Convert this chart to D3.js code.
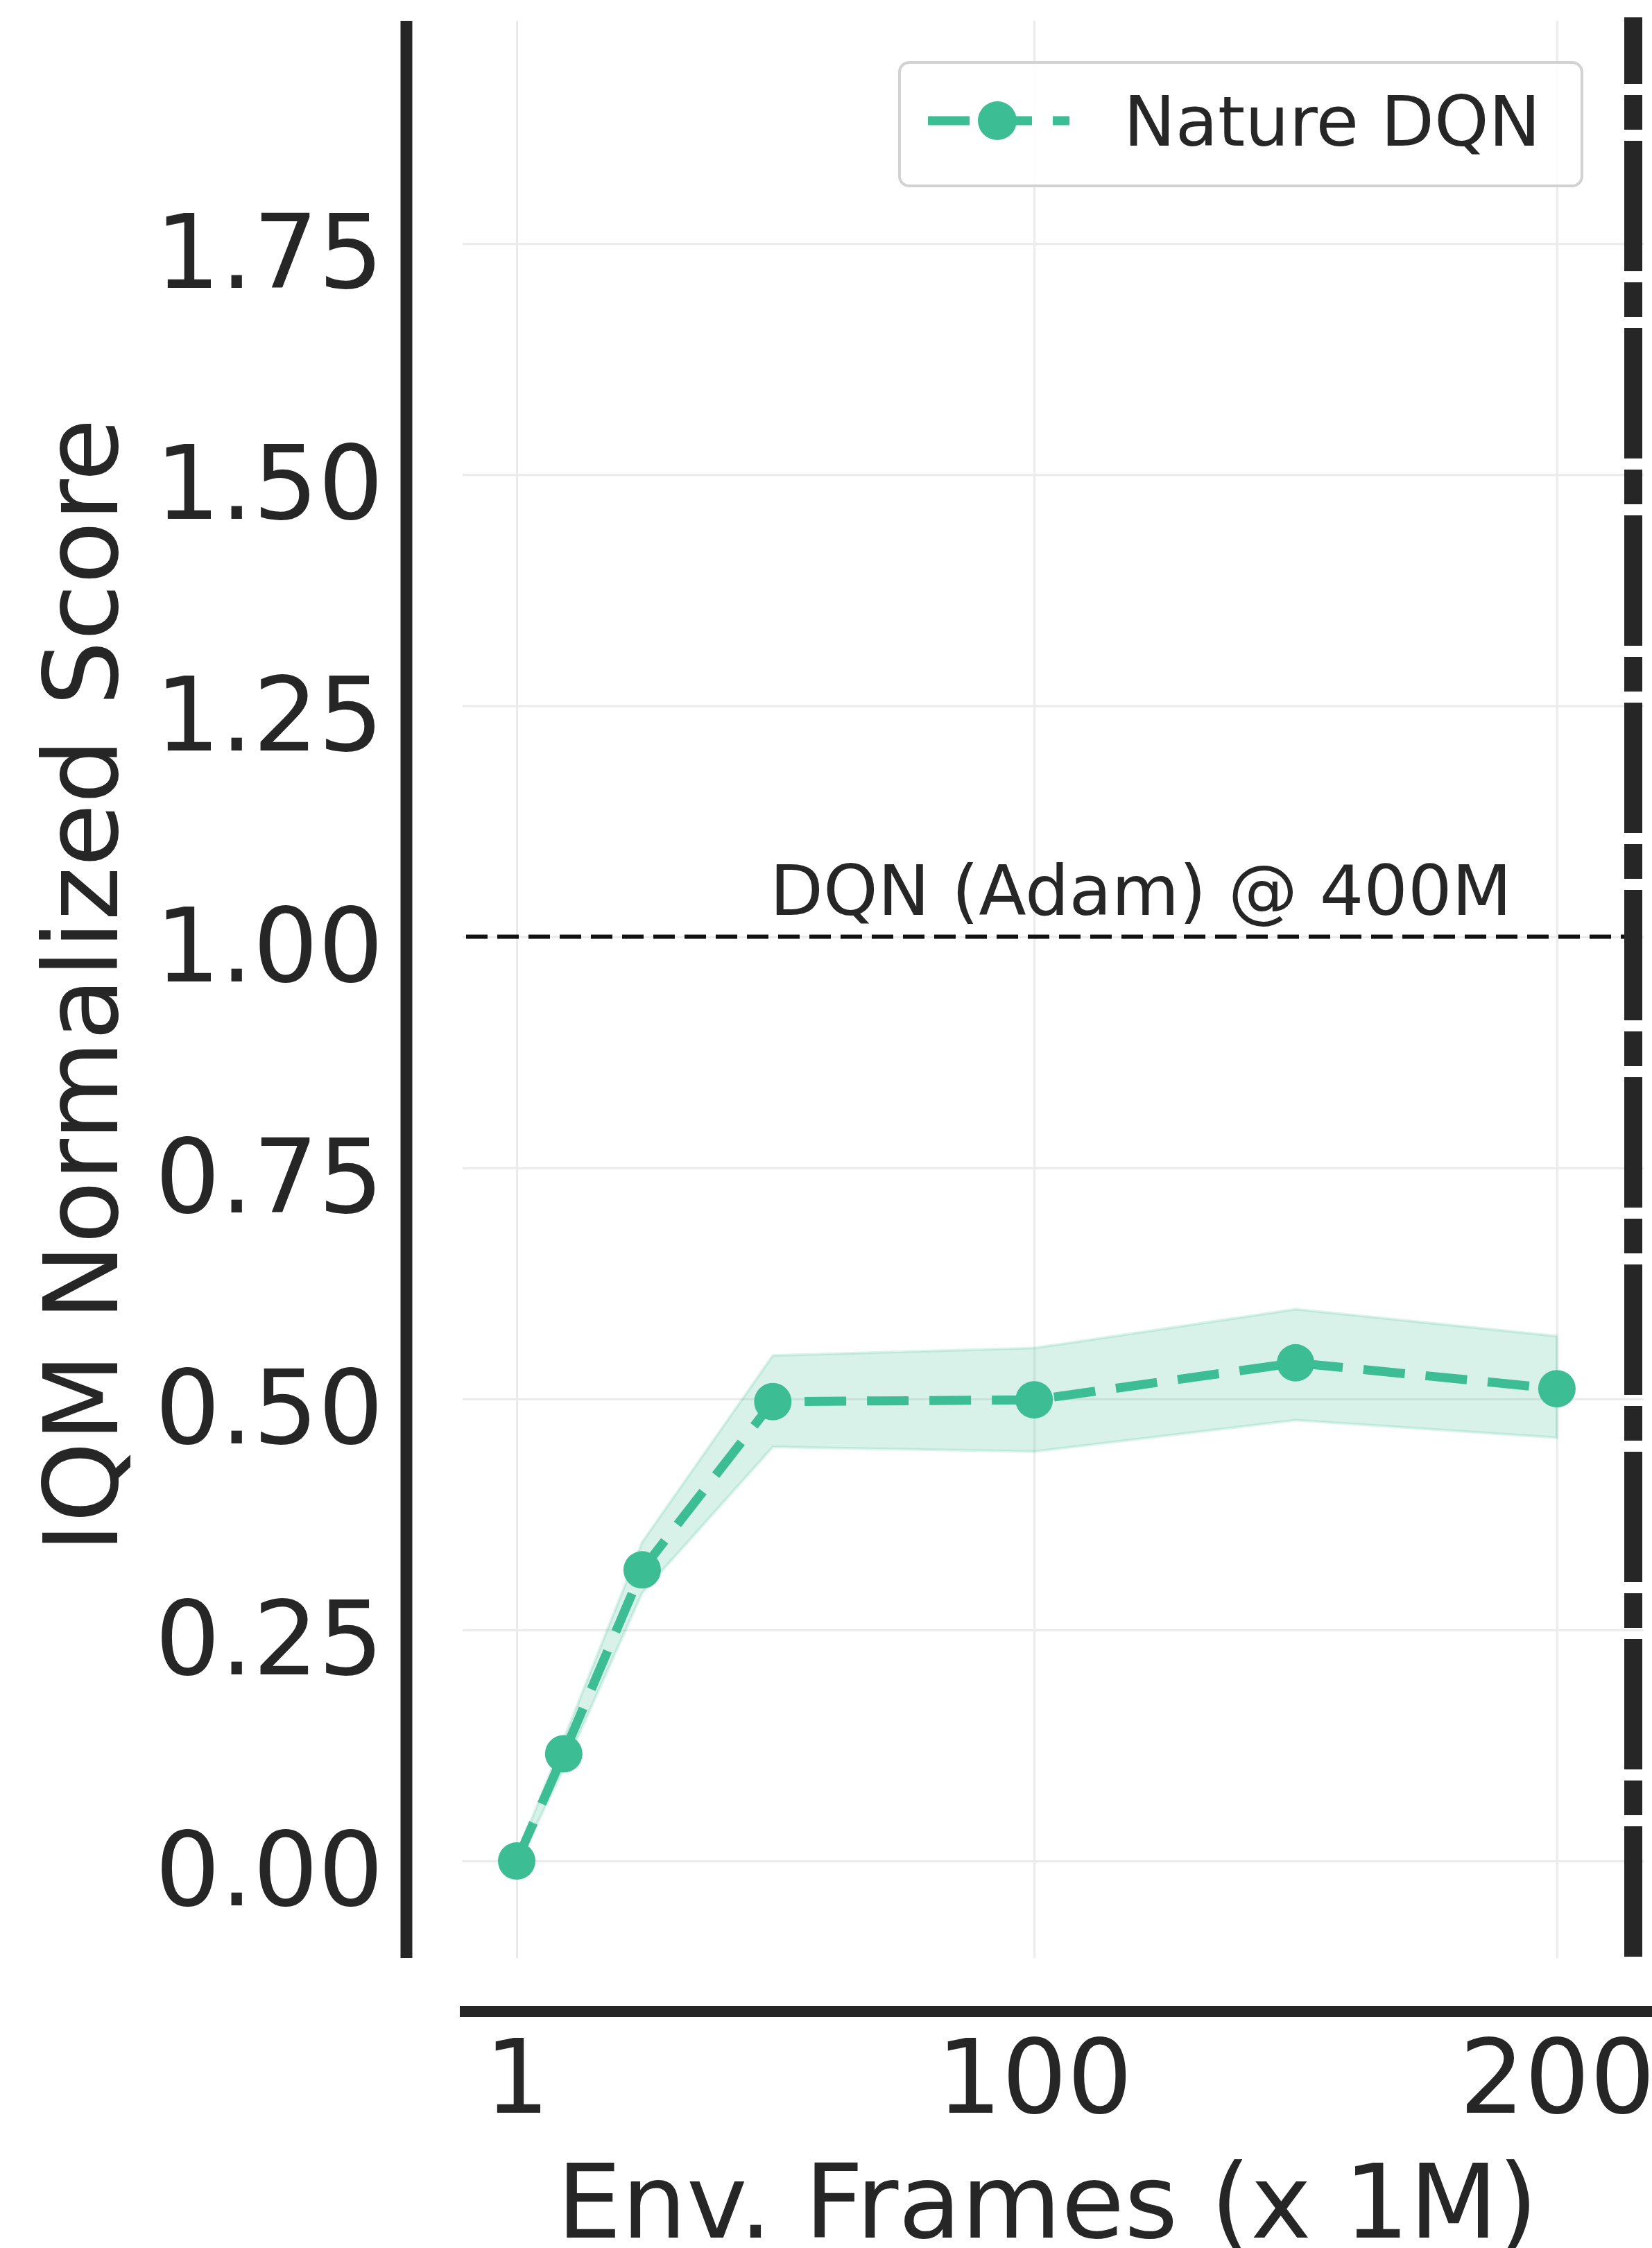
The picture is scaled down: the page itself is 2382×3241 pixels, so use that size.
<!DOCTYPE html>
<html lang="en">
    <head>
        <meta charset="utf-8">
        <title>IQM Normalized Score</title>
        <script src="https://cdn.jsdelivr.net/npm/d3@7/dist/d3.min.js" charset="utf-8"></script>
        <style type="text/css">
            body {
                margin: 0;
                background: #fff;
            }
            #chart text {
                font-family: "DejaVu Sans", sans-serif;
                fill: #262626;
            }
        </style>
    </head>
    <body>
        <div id="chart"></div>
        <script>
            // Datos
            var frames = [1, 10, 25, 50, 100, 150, 200];
            var iqm = [0.0, 0.116, 0.315, 0.497, 0.499, 0.539, 0.511];
            var ciLow = [-0.005, 0.100, 0.290, 0.448, 0.443, 0.477, 0.458];
            var ciHigh = [0.005, 0.132, 0.345, 0.547, 0.555, 0.597, 0.568];
            var xTicks = [1, 100, 200];
            var yTicks = [0, 0.25, 0.5, 0.75, 1.0, 1.25, 1.5, 1.75];
            var seriesName = "Nature DQN";
            var refValue = 1.0;
            var refLabel = "DQN (Adam) @ 400M";
            var xLabel = "Env. Frames (x 1M)";
            var yLabel = "IQM Normalized Score";

            var data = frames.map(function(f, i) {
                return {x: f, y: iqm[i], lo: ciLow[i], hi: ciHigh[i]};
            });

            var W = 2382, H = 3241;
            var plot = {left: 667, right: 2370, top: 30, bottom: 2823};
            var teal = "#3cbd94";
            var ink = "#262626";

            var svg = d3.select("#chart").append("svg")
                .attr("width", W)
                .attr("height", H);

            // Escalas
            var x = d3.scaleLinear()
                .domain([-9.35, 216.6])
                .range([plot.left, plot.right]);
            var y = d3.scaleLinear()
                .domain([-0.105, 1.991])
                .range([plot.bottom, plot.top]);

            // Grilla
            svg.append("g")
                .attr("transform", "translate(" + plot.left + ",0)")
                .call(d3.axisLeft(y).tickValues(yTicks).tickSize(-(plot.right - plot.left)).tickFormat(""))
                .call(function(g) {
                    g.select(".domain").remove();
                    g.selectAll("line").attr("stroke", "#ebebeb").attr("stroke-width", 3);
                });
            svg.append("g")
                .attr("transform", "translate(0," + plot.bottom + ")")
                .call(d3.axisBottom(x).tickValues(xTicks).tickSize(-(plot.bottom - plot.top)).tickFormat(""))
                .call(function(g) {
                    g.select(".domain").remove();
                    g.selectAll("line").attr("stroke", "#ebebeb").attr("stroke-width", 3);
                });

            // Linea de referencia
            svg.append("line")
                .attr("x1", plot.left + 5)
                .attr("x2", plot.right)
                .attr("y1", y(refValue))
                .attr("y2", y(refValue))
                .attr("stroke", "#111")
                .attr("stroke-width", 6)
                .attr("stroke-dasharray", "31,14");

            svg.append("text")
                .attr("x", 1110)
                .attr("y", y(refValue) - 32)
                .style("font-size", "100px")
                .text(refLabel);

            // Banda de confianza
            var area = d3.area()
                .x(function(d) { return x(d.x); })
                .y0(function(d) { return y(d.lo); })
                .y1(function(d) { return y(d.hi); });

            svg.append("path")
                .datum(data)
                .attr("d", area)
                .attr("fill", teal)
                .attr("fill-opacity", 0.2)
                .attr("stroke", teal)
                .attr("stroke-opacity", 0.18)
                .attr("stroke-width", 4);

            // Serie
            var line = d3.line()
                .x(function(d) { return x(d.x); })
                .y(function(d) { return y(d.y); });

            svg.append("path")
                .datum(data)
                .attr("d", line)
                .attr("fill", "none")
                .attr("stroke", teal)
                .attr("stroke-width", 13)
                .attr("stroke-dasharray", "60,30");

            svg.selectAll("circle.pt")
                .data(data)
                .enter()
                .append("circle")
                .attr("class", "pt")
                .attr("cx", function(d) { return x(d.x); })
                .attr("cy", function(d) { return y(d.y); })
                .attr("r", 27)
                .attr("fill", teal);

            // Ejes (spines desplazados)
            svg.append("line")
                .attr("x1", 586).attr("x2", 586)
                .attr("y1", plot.top).attr("y2", plot.bottom)
                .attr("stroke", ink)
                .attr("stroke-width", 17);

            svg.append("line")
                .attr("x1", plot.left - 4).attr("x2", W)
                .attr("y1", 2900).attr("y2", 2900)
                .attr("stroke", ink)
                .attr("stroke-width", 16);

            svg.append("line")
                .attr("x1", plot.right - 15).attr("x2", plot.right - 15)
                .attr("y1", 25).attr("y2", 2828)
                .attr("stroke", ink)
                .attr("stroke-width", 26)
                .attr("stroke-dasharray", "188,16,50,16")
                .attr("stroke-dashoffset", 92);

            // Etiquetas de ticks
            var yAxis = svg.append("g")
                .attr("transform", "translate(553,0)")
                .call(d3.axisLeft(y).tickValues(yTicks).tickSize(0).tickPadding(0).tickFormat(d3.format(".2f")));
            yAxis.select(".domain").remove();
            yAxis.selectAll("text")
                .attr("dy", "0.43em")
                .style("font-size", "148px")
                .attr("fill", ink);

            var xAxis = svg.append("g")
                .attr("transform", "translate(0,2941)")
                .call(d3.axisBottom(x).tickValues(xTicks).tickSize(0).tickPadding(0));
            xAxis.select(".domain").remove();
            xAxis.selectAll("text")
                .attr("y", 0)
                .attr("dy", "0.71em")
                .style("font-size", "148px")
                .attr("fill", ink);

            // Titulos de ejes
            svg.append("text")
                .attr("x", 1510)
                .attr("y", 3226)
                .style("text-anchor", "middle")
                .style("font-size", "148px")
                .text(xLabel);

            svg.append("text")
                .attr("transform", "translate(169,1421) rotate(-90)")
                .style("text-anchor", "middle")
                .style("font-size", "148px")
                .text(yLabel);

            // Leyenda
            var leyenda = svg.append("g").attr("class", "leyenda");
            leyenda.append("rect")
                .attr("x", 1297)
                .attr("y", 90)
                .attr("width", 984)
                .attr("height", 178)
                .attr("rx", 14)
                .attr("fill", "#fff")
                .attr("fill-opacity", 0.9)
                .attr("stroke", "#d2d2d2")
                .attr("stroke-width", 4);
            leyenda.append("line")
                .attr("x1", 1338).attr("x2", 1542)
                .attr("y1", 174).attr("y2", 174)
                .attr("stroke", teal)
                .attr("stroke-width", 13)
                .attr("stroke-dasharray", "60,30");
            leyenda.append("circle")
                .attr("cx", 1438)
                .attr("cy", 174)
                .attr("r", 28)
                .attr("fill", teal);
            leyenda.append("text")
                .attr("x", 1620)
                .attr("y", 210)
                .style("font-size", "100px")
                .text(seriesName);
        </script>
    </body>
</html>
